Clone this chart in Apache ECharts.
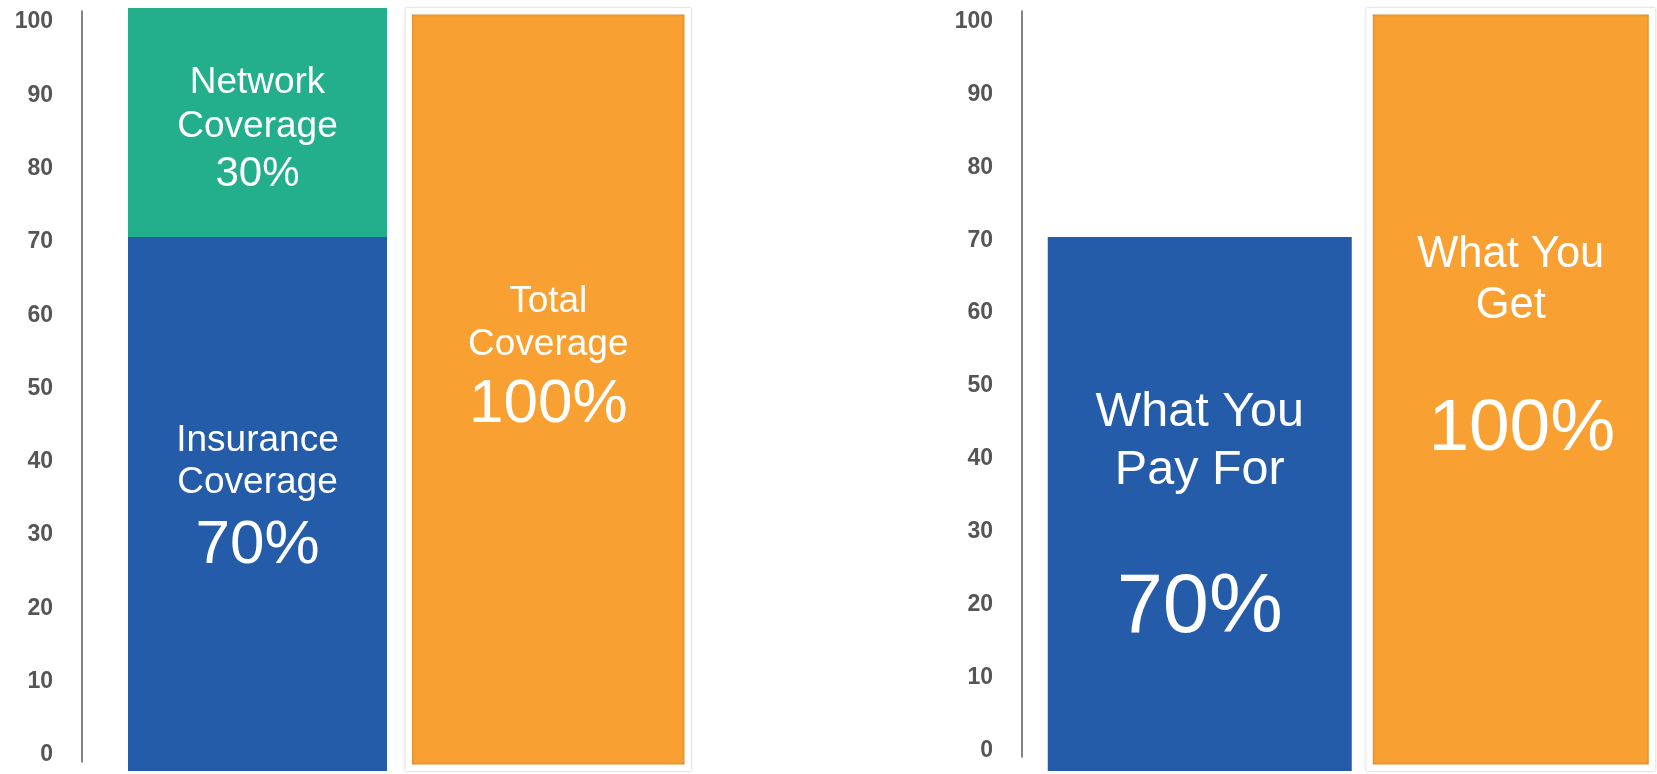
<!DOCTYPE html>
<html>
<head>
<meta charset="utf-8">
<script src="https://cdn.jsdelivr.net/npm/echarts@6/dist/echarts.min.js"></script>
<style>
  html, body { margin: 0; padding: 0; background: #ffffff; }
  #chart { width: 1657px; height: 774px; }
</style>
</head>
<body>
<div id="chart"></div>
<script>
// ---- data ----
const tickValues = [0, 10, 20, 30, 40, 50, 60, 70, 80, 90, 100];
const leftCategories = ['Coverage'];
const insuranceValues = [70];
const networkValues = [30];
const totalValues = [100];
const rightCategories = ['Value'];
const payValues = [70];
const getValues = [100];
const insuranceLines = ['Insurance', 'Coverage'];
const networkLines = ['Network', 'Coverage'];
const totalLines = ['Total', 'Coverage'];
const payLines = ['What You', 'Pay For'];
const getLines = ['What You', 'Get'];

const FONT = '"Liberation Sans", Arial, Helvetica, sans-serif';
const BLUE = '#245ca9';
const GREEN = '#23af8b';
const ORANGE = '#f9a032';

function makeLabel(lines, wordSize, wordLH, pctSize, pctLH, offsetY, pctPadLeft) {
  return {
    show: true,
    position: 'inside',
    offset: [0, offsetY],
    color: '#ffffff',
    fontFamily: FONT,
    formatter: function (p) {
      return '{a|' + lines[0] + '}\n{a|' + lines[1] + '}\n{c|' + p.value + '%}';
    },
    rich: {
      a: { fontSize: wordSize, lineHeight: wordLH, color: '#fff', fontFamily: FONT, align: 'center' },
      c: { fontSize: pctSize, lineHeight: pctLH, color: '#fff', fontFamily: FONT, align: 'center',
           padding: [0, 0, 0, pctPadLeft || 0] }
    }
  };
}

function labelAxis(gridIndex, min, max) {
  return {
    type: 'value', gridIndex: gridIndex, min: min, max: max,
    axisLine: { show: true, lineStyle: { color: '#5a5a5a', width: 1.5 } },
    axisTick: { show: false },
    splitLine: { show: false },
    axisLabel: {
      customValues: tickValues,
      margin: 29,
      fontFamily: FONT, fontWeight: 'bold', fontSize: 23, color: '#555555'
    }
  };
}

function frameStyle(bw) {
  return {
    color: ORANGE,
    borderColor: '#ffffff',
    borderWidth: bw,
    shadowColor: 'rgba(0,0,0,0.28)',
    shadowBlur: 2.5
  };
}

const chart = echarts.init(document.getElementById('chart'), null, { renderer: 'canvas' });
chart.setOption({
  backgroundColor: '#ffffff',
  animation: false,
  grid: [
    { left: 82, top: 11, bottom: 12, width: 10, containLabel: false, outerBoundsMode: 'none' },
    { left: 114, top: 8, bottom: 3, width: 591, containLabel: false, outerBoundsMode: 'none' },
    { left: 1022, top: 11, bottom: 17, width: 10, containLabel: false, outerBoundsMode: 'none' },
    { left: 1047, top: 8, bottom: 3, width: 609, containLabel: false, outerBoundsMode: 'none' }
  ],
  xAxis: [
    { type: 'value', gridIndex: 0, show: false },
    { type: 'category', gridIndex: 1, data: leftCategories, show: false },
    { type: 'value', gridIndex: 2, show: false },
    { type: 'category', gridIndex: 3, data: rightCategories, show: false }
  ],
  yAxis: [
    labelAxis(0, -0.955, 101.5),
    { type: 'value', gridIndex: 1, min: 0, max: 100, show: false },
    labelAxis(2, -0.89, 101.44),
    { type: 'value', gridIndex: 3, min: 0, max: 100, show: false }
  ],
  series: [
    {
      name: 'Insurance Coverage', type: 'bar', xAxisIndex: 1, yAxisIndex: 1,
      stack: 'cov', barWidth: 259, barGap: '7.14%',
      data: insuranceValues,
      itemStyle: { color: BLUE },
      label: makeLabel(insuranceLines, 37, 42, 62, 84, 0)
    },
    {
      name: 'Network Coverage', type: 'bar', xAxisIndex: 1, yAxisIndex: 1,
      stack: 'cov', barWidth: 259, barGap: '7.14%',
      data: networkValues,
      itemStyle: { color: GREEN },
      label: makeLabel(networkLines, 37, 44, 42, 50, 7.5)
    },
    {
      name: 'Total Coverage', type: 'bar', xAxisIndex: 1, yAxisIndex: 1,
      barWidth: 285.5, barGap: '7.14%',
      data: totalValues,
      itemStyle: frameStyle(6.5),
      label: makeLabel(totalLines, 37, 43, 62, 77, -28)
    },
    {
      name: 'What You Pay For', type: 'bar', xAxisIndex: 3, yAxisIndex: 3,
      barWidth: 304, barGap: '4.77%',
      data: payValues,
      itemStyle: { color: BLUE },
      label: makeLabel(payLines, 48.5, 58, 83, 219, 47)
    },
    {
      name: 'What You Get', type: 'bar', xAxisIndex: 3, yAxisIndex: 3,
      barWidth: 289, barGap: '4.77%',
      data: getValues,
      itemStyle: frameStyle(6.5),
      label: makeLabel(getLines, 43.5, 51, 73, 197, -10.5, 22)
    }
  ]
});
</script>
</body>
</html>
